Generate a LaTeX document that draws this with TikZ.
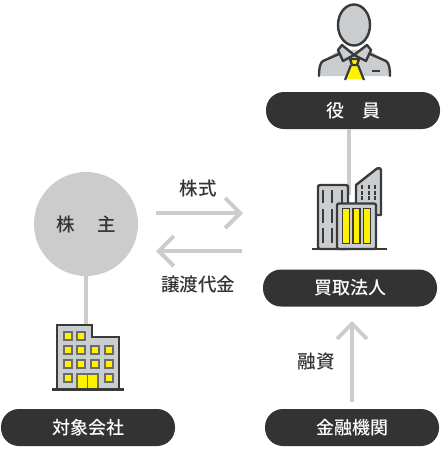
\documentclass[tikz,border=0pt]{standalone}
\usepackage{fontspec}
\setmainfont{Noto Sans CJK JP}[BoldFont={Noto Sans CJK JP Medium}]
\usepackage{tikz}
\usetikzlibrary{arrows.meta,positioning}
\definecolor{darkpill}{HTML}{333333}
\definecolor{iconline}{HTML}{3A3A3A}
\definecolor{icongray}{HTML}{CBCED1}
\definecolor{linegray}{HTML}{CCCCCC}
\definecolor{accent}{HTML}{FFF200}
\tikzset{
  pill/.style={draw=none, fill=darkpill, rounded corners=18pt, text=white, font=\fontsize{18}{18}\selectfont\bfseries,
    minimum width=174pt, minimum height=37pt, inner sep=0pt},
  label/.style={text=darkpill, font=\fontsize{18.5}{18}\selectfont\bfseries, inner sep=0pt},
  conn/.style={draw=linegray, line width=4pt},
  arr/.style={conn, -{Straight Barb[length=15pt,width=30pt,line width=4pt]}},
  icon/.style={draw=iconline, line width=2.4pt, fill=icongray, line join=round},
  slit/.style={draw=iconline, line width=1.8pt},
  win/.style={draw=iconline!75, line width=1.6pt, fill=accent}
}
\begin{document}
\begin{tikzpicture}[x=1pt, y=-1pt]
    \useasboundingbox (0,0) rectangle (440,450);
    % nodes
    \node[pill] (officer) at (353,110.5) {役\hspace{1em}員};
    \node[pill] (buyer) at (350,288) {買取法人};
    \node[pill] (target) at (88,427.5) {対象会社};
    \node[pill] (bank) at (352,427.5) {金融機関};
    \node[circle, fill=linegray, minimum size=104pt, inner sep=0pt, font=\fontsize{18.5}{18}\selectfont\bfseries, text=darkpill] (holder) at (86,224) {株\hspace{1.2em}主};
    \node[label] (stock) at (198,188) {株式};
    \node[label] (price) at (198,284) {譲渡代金};
    \node[label] (loan) at (316,362) {融資};
    \coordinate (towertop) at (349,195);
    \coordinate (officetop) at (86,330);
    \coordinate (stockL) at (156,213);
    \coordinate (stockR) at (243,213);
    \coordinate (priceR) at (242,251);
    \coordinate (priceL) at (156,251);
    \coordinate (loanB) at (352,402);
    \coordinate (loanT) at (352,321);
    % connectors
    \draw[conn] (towertop |- officer.south) -- (towertop);
    \draw[conn] (holder) -- (officetop);
    \draw[arr] (stockL) -- (stockR);
    \draw[arr] (priceR) -- (priceL);
    \draw[arr] (loanB) -- (loanT);
    % person
    \fill[icongray] (319,76) -- (321,62) -- (339,50) -- (369,50) -- (388,62) -- (390,76) -- cycle;
    \draw[icon, fill=none, line cap=round] (319,76) .. controls (319,68) and (320,63) .. (323,61) -- (339,54);
    \draw[icon, fill=none, line cap=round] (390,76) .. controls (390,68) and (389,63) .. (386,61) -- (370,54);
    \draw[icon] (354,25) ellipse [x radius=16, y radius=20.5];
    \draw[icon] (342,45) -- (338,50) -- (343,61) -- (354,55) -- cycle;
    \draw[icon] (367,45) -- (371,50) -- (366,61) -- (354,55) -- cycle;
    \fill[accent] (351,65) -- (358,65) -- (364,79) -- (345,79) -- cycle;
    \draw[icon, fill=accent] (350,59) -- (359,59) -- (357,65) -- (352,65) -- cycle;
    \draw[slit, line width=2.2pt] (351,65) -- (345,80) (358,65) -- (364,80);
    \draw[slit] (372,71) -- (380,71);
    % tower
    \draw[icon] (356,200) -- (356,185) -- (377,168.5) .. controls (379,167.5) and (381,168) .. (381,171) -- (381,215) -- (356,215) -- cycle;
    \draw[icon, rounded corners=2pt] (318,249) -- (318,185) -- (348,185) -- (348,249) -- cycle;
    \foreach \px in {323,332,342} {
      \draw[slit] (\px,190) -- (\px,203);
      \draw[slit] (\px,209) -- (\px,223);
      \draw[slit] (\px,228) -- (\px,243);
    }
    \foreach \px in {362,369,375} {
      \foreach \py in {187,192.5,198} {
        \draw[slit] (\px,\py-2) -- (\px,\py+2);
      }
    }
    \draw[icon, rounded corners=2pt] (337,249) -- (337,203.5) -- (376,203.5) -- (376,249) -- cycle;
    \foreach \px in {342.5,353,363.5} {
      \draw[slit, fill=accent] (\px,208.5) rectangle ++(7,35);
    }
    \draw[slit, line width=2.4pt] (312,249) -- (387,249);
    % office
    \draw[icon, line join=miter] (57,389) -- (57,325) -- (92,325) -- (92,337) -- (119,337) -- (119,389) -- cycle;
    \foreach \px/\py in {68/336,81/336,68/350,81/350,95/350,109/350,68/364,81/364,95/364,109/364,68/378,109/378} {
      \draw[win] (\px-4,\py-4) rectangle ++(8,8);
    }
    \draw[draw=iconline!75, line width=1.2pt, fill=accent] (77,374) rectangle (87.5,389);
    \draw[draw=iconline!75, line width=1.2pt, fill=accent] (87.5,374) rectangle (98,389);
    \draw[slit, line width=2.4pt] (52,389.5) -- (124,389.5);
  \end{tikzpicture}
\end{document}
